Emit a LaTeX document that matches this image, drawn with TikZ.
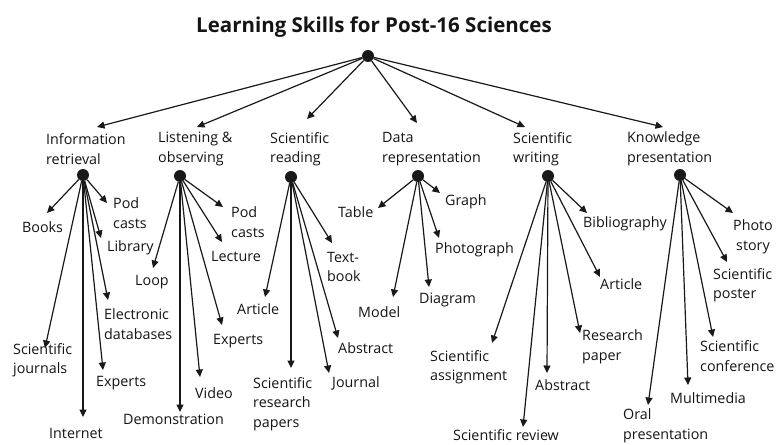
\documentclass[tikz,border=0pt]{standalone}
\usepackage{fontspec}
\setmainfont{Open Sans}
\usetikzlibrary{arrows.meta}

\begin{document}
\begin{tikzpicture}[x=1pt,y=-1pt,
    lbl/.style={inner sep=0pt, align=left, text=black!92, font=\fontsize{14.3}{19.5}\selectfont},
    hub/.style={circle, fill=black!90, inner sep=0pt, minimum size=12pt},
    arr/.style={-{Triangle[length=7.5pt,width=7pt]}, line width=1.2pt, draw=black!90}]
  \useasboundingbox (0,0) rectangle (781,444);

  % title and root
  \node[inner sep=0pt, text=black!92, font=\bfseries\fontsize{20.5}{24}\selectfont] (title) at (374,27) {Learning Skills for Post-16 Sciences};
  \node[hub] (root) at (368,56) {};

  % skill groups
  \node[lbl, anchor=west] (ir) at (46,149) {Information\\retrieval};
  \node[lbl, anchor=west] (lo) at (158,149) {Listening \&\\observing};
  \node[lbl, anchor=west] (sr) at (270,149) {Scientific\\reading};
  \node[lbl, anchor=west] (dr) at (382,149) {Data\\representation};
  \node[lbl, anchor=west] (sw) at (513,149) {Scientific\\writing};
  \node[lbl, anchor=west] (kp) at (627,149) {Knowledge\\presentation};
  \coordinate (irTip) at (97,127);
  \coordinate (loTip) at (197,127);
  \coordinate (srTip) at (307,119);
  \coordinate (drTip) at (417,123);
  \coordinate (swTip) at (525,127);
  \coordinate (kpTip) at (663,127);
  \foreach \g in {ir,lo,sr,dr,sw,kp}
    \draw[arr] (root) -- (\g Tip);

  \node[hub] (irHub) at (83,175) {};
  \node[hub] (loHub) at (180,176) {};
  \node[hub] (srHub) at (291,177) {};
  \node[hub] (drHub) at (418,176) {};
  \node[hub] (swHub) at (548,176) {};
  \node[hub] (kpHub) at (680,175) {};

  % information retrieval
  \node[lbl, anchor=west] (irBooks) at (22,227) {Books};
  \node[lbl, anchor=west] (irPod) at (113,213) {Pod\\casts};
  \node[lbl, anchor=west] (irLib) at (107,248) {Library};
  \node[lbl, anchor=west] (irElec) at (104,324) {Electronic\\databases};
  \node[lbl, anchor=west] (irExp) at (96,383) {Experts};
  \node[lbl, anchor=west] (irNet) at (49,433) {Internet};
  \node[lbl, anchor=west] (irJour) at (13,360) {Scientific\\journals};
  \coordinate (irBooksTip) at (47,213);
  \coordinate (irPodTip) at (107,203);
  \coordinate (irLibTip) at (101,238);
  \coordinate (irElecTip) at (108,300);
  \coordinate (irExpTip) at (103,370);
  \coordinate (irNetTip) at (83,417);
  \coordinate (irJourTip) at (45,348);
  \foreach \l in {Books,Pod,Lib,Elec,Exp,Net,Jour}
    \draw[arr] (irHub) -- (ir\l Tip);

  % listening & observing
  \node[lbl, anchor=west] (loLoop) at (135,282) {Loop};
  \node[lbl, anchor=west] (loPod) at (231,222) {Pod\\casts};
  \node[lbl, anchor=west] (loLect) at (211,256) {Lecture};
  \node[lbl, anchor=west] (loExp) at (213,341) {Experts};
  \node[lbl, anchor=west] (loVid) at (195,393) {Video};
  \node[lbl, anchor=west] (loDemo) at (123,419) {Demonstration};
  \coordinate (loLoopTip) at (153,268);
  \coordinate (loPodTip) at (223,207);
  \coordinate (loLectTip) at (222,242);
  \coordinate (loExpTip) at (222,325);
  \coordinate (loVidTip) at (200,377);
  \coordinate (loDemoTip) at (180,412);
  \foreach \l in {Loop,Pod,Lect,Exp,Vid,Demo}
    \draw[arr] (loHub) -- (lo\l Tip);

  % scientific reading
  \node[lbl, anchor=west] (srArt) at (237,309) {Article};
  \node[lbl, anchor=west] (srText) at (327,267) {Text-\\book};
  \node[lbl, anchor=west] (srAbs) at (338,348) {Abstract};
  \node[lbl, anchor=west] (srJour) at (332,383) {Journal};
  \node[lbl, anchor=west] (srPap) at (253,404) {Scientific\\research\\papers};
  \coordinate (srArtTip) at (265,297);
  \coordinate (srTextTip) at (332,243);
  \coordinate (srAbsTip) at (338,338);
  \coordinate (srJourTip) at (329,373);
  \coordinate (srPapTip) at (291,368);
  \foreach \l in {Art,Text,Abs,Jour,Pap}
    \draw[arr] (srHub) -- (sr\l Tip);

  % data representation
  \node[lbl, anchor=west] (drTab) at (338,212) {Table};
  \node[lbl, anchor=west] (drGraph) at (445,202) {Graph};
  \node[lbl, anchor=west] (drPhoto) at (435,250) {Photograph};
  \node[lbl, anchor=west] (drDiag) at (419,300) {Diagram};
  \node[lbl, anchor=west] (drMod) at (358,312) {Model};
  \coordinate (drTabTip) at (378,208);
  \coordinate (drGraphTip) at (440,193);
  \coordinate (drPhotoTip) at (439,238);
  \coordinate (drDiagTip) at (429,287);
  \coordinate (drModTip) at (393,297);
  \foreach \l in {Tab,Graph,Photo,Diag,Mod}
    \draw[arr] (drHub) -- (dr\l Tip);

  % scientific writing
  \node[lbl, anchor=west] (swBib) at (583,224) {Bibliography};
  \node[lbl, anchor=west] (swArt) at (600,284) {Article};
  \node[lbl, anchor=west] (swRes) at (582,347) {Research\\paper};
  \node[lbl, anchor=west] (swAbs) at (535,385) {Abstract};
  \node[lbl, anchor=west] (swRev) at (453,435) {Scientific review};
  \node[lbl, anchor=west] (swAss) at (430,367) {Scientific\\assignment};
  \coordinate (swBibTip) at (587,213);
  \coordinate (swArtTip) at (600,277);
  \coordinate (swResTip) at (580,333);
  \coordinate (swAbsTip) at (547,373);
  \coordinate (swRevTip) at (523,427);
  \coordinate (swAssTip) at (492,343);
  \foreach \l in {Bib,Art,Res,Abs,Rev,Ass}
    \draw[arr] (swHub) -- (sw\l Tip);

  % knowledge presentation
  \node[lbl, align=center] (kpStory) at (753,237) {Photo\\story};
  \node[lbl, anchor=west] (kpPost) at (713,285) {Scientific\\poster};
  \node[lbl, anchor=west] (kpConf) at (700,356) {Scientific\\conference};
  \node[lbl, anchor=west] (kpMulti) at (670,398) {Multimedia};
  \node[lbl, anchor=west] (kpOral) at (623,426) {Oral\\presentation};
  \coordinate (kpStoryTip) at (733,213);
  \coordinate (kpPostTip) at (727,262);
  \coordinate (kpConfTip) at (713,337);
  \coordinate (kpMultiTip) at (688,385);
  \coordinate (kpOralTip) at (648,405);
  \foreach \l in {Story,Post,Conf,Multi,Oral}
    \draw[arr] (kpHub) -- (kp\l Tip);
\end{tikzpicture}
\end{document}
